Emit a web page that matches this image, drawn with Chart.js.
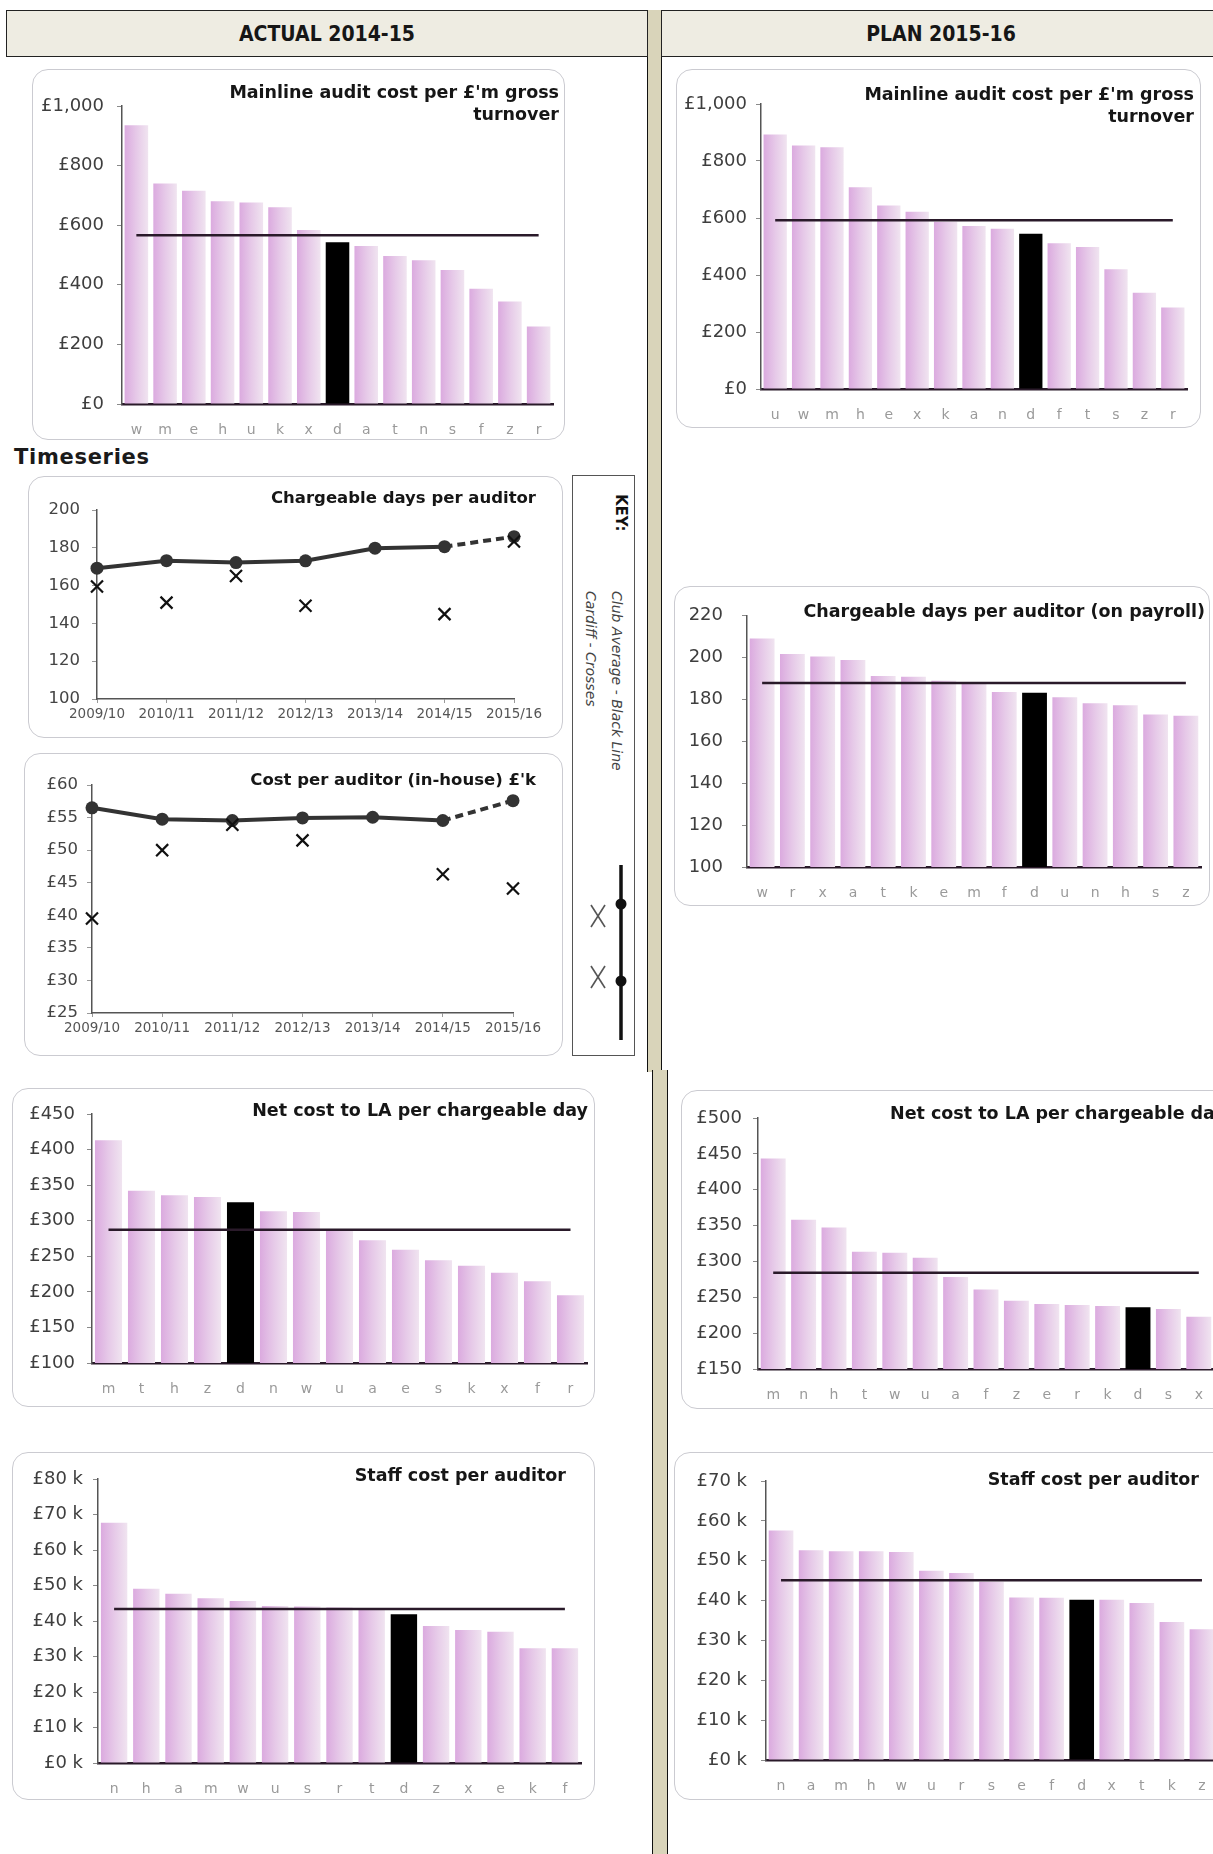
<!DOCTYPE html>
<html>
<head>
<meta charset="utf-8">
<title>Internal audit benchmarking</title>
<script src="https://cdn.jsdelivr.net/npm/chart.js@4.4.1/dist/chart.umd.min.js"></script>
<style>
  html, body { margin: 0; padding: 0; background: #fff; }
  body { width: 1213px; height: 1854px; position: relative; overflow: hidden;
         font-family: "DejaVu Sans", Verdana, sans-serif; }
  .abs { position: absolute; }
  .card { position: absolute; box-sizing: border-box; border: 1.5px solid #cbcbd1;
          border-radius: 16px; background: #fff; }
  .plot { position: absolute; }
  .plot canvas { display: block; }
  .ttl { position: absolute; font-weight: bold; color: #161616; white-space: nowrap; }
  .head { position: absolute; top: 10px; height: 47px; box-sizing: border-box;
          border: 1.5px solid #222; background: #eeece2; display: flex;
          align-items: center; justify-content: center;
          font-family: "Liberation Sans Narrow", "DejaVu Sans Condensed", sans-serif;
          font-size: 21px; font-weight: bold; letter-spacing: 0px; color: #161616; }
  .divider { position: absolute; box-sizing: border-box; background: #d9d4ba;
             border-left: 1.5px solid #111; border-right: 1.5px solid #111; }
</style>
</head>
<body>

<div class="divider" style="left:647px; top:10px; width:15px; height:1062px;"></div>
<div class="divider" style="left:652px; top:1070px; width:16px; height:790px;"></div>
<div class="head" style="left:6px; width:642px;">ACTUAL 2014-15</div>
<div class="head" style="left:661px; width:560px;">PLAN 2015-16</div>

<div class="abs" style="left:14px; top:445px; font-weight:bold; font-size:21px; letter-spacing:0.7px; color:#1a1a1a;">Timeseries</div>

<!-- key panel for the two time series -->
<div class="abs" style="left:572px; top:475px; width:63px; height:581px; box-sizing:border-box; border:1.5px solid #555; background:#fff;"></div>
<div class="abs" style="left:611px; top:494px; writing-mode:vertical-rl; font-weight:bold; font-size:15px; line-height:20px; color:#111;">KEY:</div>
<div class="abs" style="left:578px; top:591px; writing-mode:vertical-rl; font-style:italic; font-size:14px; line-height:26px; color:#444;">Club Average - Black Line<br>Cardiff - Crosses</div>
<svg class="abs" style="left:580px; top:860px;" width="55" height="190">
  <g stroke="#555" stroke-width="1.6" fill="none">
    <line x1="11" y1="45" x2="25" y2="67"/><line x1="25" y1="45" x2="11" y2="67"/>
    <line x1="11" y1="106" x2="25" y2="128"/><line x1="25" y1="106" x2="11" y2="128"/>
  </g>
  <line x1="41" y1="5" x2="41" y2="180" stroke="#111" stroke-width="3.5"/>
  <circle cx="41" cy="44" r="5.5" fill="#111"/>
  <circle cx="41" cy="121" r="5.5" fill="#111"/>
</svg>

<script>
// ---------- data ----------
const years = ['2009/10', '2010/11', '2011/12', '2012/13', '2013/14', '2014/15', '2015/16'];

// Mainline audit cost per £'m gross turnover
const mainlineActualCats = ['w','m','e','h','u','k','x','d','a','t','n','s','f','z','r'];
const mainlineActualVals = [935, 740, 716, 680, 676, 660, 584, 543, 530, 497, 482, 450, 387, 344, 260];
const mainlineActualAvg = 566;

const mainlinePlanCats = ['u','w','m','h','e','x','k','a','n','d','f','t','s','z','r'];
const mainlinePlanVals = [893, 854, 848, 708, 644, 622, 587, 572, 562, 545, 511, 498, 420, 338, 286];
const mainlinePlanAvg = 592;

// Chargeable days per auditor (time series)
const daysClub = [169.2, 173.2, 172.2, 173.1, 179.8, 180.6, 185.9];
const daysCardiff = [159.5, 151.0, 165.1, 149.3, null, 144.9, 183.3];

// Cost per auditor (in-house) £'k (time series)
const costClub = [56.5, 54.75, 54.55, 54.95, 55.05, 54.55, 57.6];
const costCardiff = [39.5, 50.0, 53.9, 51.5, null, 46.3, 44.1];

// Chargeable days per auditor (on payroll), plan
const daysPlanCats = ['w','r','x','a','t','k','e','m','f','d','u','n','h','s','z'];
const daysPlanVals = [209.2, 201.7, 200.5, 198.9, 191.3, 190.9, 189.0, 187.6, 183.6, 183.3, 181.1, 178.2, 177.3, 172.8, 172.3];
const daysPlanAvg = 187.9;

// Net cost to LA per chargeable day
const netActualCats = ['m','t','h','z','d','n','w','u','a','e','s','k','x','f','r'];
const netActualVals = [413, 342, 335.7, 333.4, 325.9, 313.2, 312.3, 285.5, 272.4, 259.3, 244.3, 236.8, 227, 214.8, 195.1];
const netActualAvg = 287.4;

const netPlanCats = ['m','n','h','t','w','u','a','f','z','e','r','k','d','s','x'];
const netPlanVals = [443.6, 358, 347.3, 313.5, 312, 305, 278.2, 260.9, 245.3, 240.7, 239.2, 237.8, 236, 233.6, 222.8];
const netPlanAvg = 284.3;

// Staff cost per auditor (£k)
const staffActualCats = ['n','h','a','m','w','u','s','r','t','d','z','x','e','k','f'];
const staffActualVals = [67.7, 49.1, 47.7, 46.4, 45.6, 44.2, 44.1, 43.8, 43.4, 41.9, 38.6, 37.5, 37.0, 32.3, 32.3];
const staffActualAvg = 43.4;

const staffPlanCats = ['n','a','m','h','w','u','r','s','e','f','d','x','t','k','z'];
const staffPlanVals = [57.6, 52.6, 52.4, 52.4, 52.2, 47.5, 46.9, 44.7, 40.8, 40.7, 40.2, 40.2, 39.4, 34.6, 32.8];
const staffPlanAvg = 45.1;

const ownAuthority = 'd';

// ---------- helpers ----------
Chart.defaults.font.family = '"DejaVu Sans", Verdana, sans-serif';
Chart.defaults.animation = false;

const fmtPounds = v => '£' + Number(v).toLocaleString('en-GB');
const fmtK = v => '£' + v + ' k';
const fmtPlain = v => String(v);

// lilac bars get a soft left-to-right shade; the highlighted authority stays black
const barShade = {
  id: 'barShade',
  beforeDatasetsDraw(chart) {
    const g = chart.ctx;
    chart.data.datasets.forEach((ds, i) => {
      const meta = chart.getDatasetMeta(i);
      if (meta.type !== 'bar') return;
      meta.data.forEach((el, j) => {
        if (chart.data.labels[j] === ownAuthority) return;
        const half = el.width / 2;
        const gr = g.createLinearGradient(el.x - half, 0, el.x + half, 0);
        gr.addColorStop(0, '#dbaadf');
        gr.addColorStop(0.5, '#e6c9e8');
        gr.addColorStop(1, '#f0e4f0');
        el.options = Object.assign({}, el.options, { backgroundColor: gr });
      });
    });
  }
};

function mount(card) {
  const box = document.createElement('div');
  box.className = 'card';
  Object.assign(box.style, { left: card[0] + 'px', top: card[1] + 'px', width: card[2] + 'px', height: card[3] + 'px' });
  document.body.appendChild(box);
  const wrap = document.createElement('div');
  wrap.className = 'plot';
  Object.assign(wrap.style, { left: card[0] + 'px', top: card[1] + 'px', width: card[2] + 'px', height: card[3] + 'px' });
  const cv = document.createElement('canvas');
  wrap.appendChild(cv);
  document.body.appendChild(wrap);
  return cv;
}

function addTitle(lines, x, yMid, size, anchor) {
  const d = document.createElement('div');
  d.className = 'ttl';
  const lh = size * 1.22;
  d.style.fontSize = size + 'px';
  d.style.lineHeight = lh + 'px';
  d.style.top = (yMid - lh / 2) + 'px';
  if (anchor === 'left') {
    d.style.left = x + 'px';
    d.style.textAlign = 'left';
  } else {
    d.style.left = (x - 700) + 'px';
    d.style.width = '700px';
    d.style.textAlign = 'right';
  }
  d.innerHTML = lines.join('<br>');
  document.body.appendChild(d);
}

function frame(card, plot, xH) {
  return {
    autoPadding: false,
    padding: {
      left: 0,
      top: plot.t - card[1],
      right: card[0] + card[2] - plot.r,
      bottom: card[1] + card[3] - plot.b - xH
    }
  };
}

function barChart(o) {
  const cv = mount(o.card);
  const xH = 32, tickLen = 5;
  new Chart(cv, {
    type: 'bar',
    data: {
      labels: o.cats,
      datasets: [
        { type: 'line', data: o.cats.map(() => o.avg), borderColor: '#2a1a2a', borderWidth: 2.5,
          pointRadius: 0, tension: 0, order: 0 },
        { type: 'bar', data: o.vals,
          backgroundColor: c => o.cats[c.dataIndex] === ownAuthority ? '#000000' : '#e4c6e7',
          barPercentage: 0.82, categoryPercentage: 1, order: 1 }
      ]
    },
    options: {
      responsive: true, maintainAspectRatio: false, animation: false,
      layout: frame(o.card, o.plot, xH),
      plugins: { legend: { display: false }, tooltip: { enabled: false }, title: { display: false } },
      scales: {
        x: {
          grid: { display: false },
          border: { display: true, color: '#2a1a2a', width: 2.5 },
          ticks: { color: '#9a9a9a', font: { size: 14 }, padding: 10, autoSkip: false, maxRotation: 0 },
          afterFit: s => { s.height = xH; }
        },
        y: {
          min: o.min, max: o.max,
          grid: { display: true, drawOnChartArea: false, drawTicks: true, tickLength: tickLen, color: '#8a8a8a' },
          border: { display: true, color: '#555', width: 1.5 },
          ticks: { stepSize: o.step, color: '#3e3e3e', font: { size: 18 }, padding: o.gap - tickLen, callback: o.fmt },
          afterFit: s => { s.width = o.plot.l - o.card[0]; }
        }
      }
    },
    plugins: [barShade]
  });
}

function tsChart(o) {
  const cv = mount(o.card);
  const xH = 28, tickLen = 5;
  new Chart(cv, {
    type: 'line',
    data: {
      labels: years,
      datasets: [
        { data: o.club, borderColor: '#333', backgroundColor: '#333', borderWidth: 4, tension: 0,
          pointRadius: 6.5, pointBackgroundColor: '#333', pointBorderWidth: 0, clip: false,
          segment: { borderDash: s => (s.p1DataIndex === years.length - 1 ? [8, 5] : undefined) },
          order: 1 },
        { data: o.cardiff, showLine: false, pointStyle: 'crossRot', pointRadius: 8.5,
          pointBorderColor: '#111', pointBackgroundColor: '#111', pointBorderWidth: 2.2, clip: false, order: 0 }
      ]
    },
    options: {
      responsive: true, maintainAspectRatio: false, animation: false,
      layout: frame(o.card, o.plot, xH),
      plugins: { legend: { display: false }, tooltip: { enabled: false }, title: { display: false } },
      scales: {
        x: {
          offset: false,
          grid: { display: true, drawOnChartArea: false, drawTicks: true, tickLength: 4, color: '#999' },
          border: { display: true, color: '#555', width: 1.5 },
          ticks: { color: '#555', font: { size: 13.5 }, padding: 3, autoSkip: false, maxRotation: 0 },
          afterFit: s => { s.height = xH; }
        },
        y: {
          min: o.min, max: o.max,
          grid: { display: true, drawOnChartArea: false, drawTicks: true, tickLength: tickLen, color: '#999' },
          border: { display: true, color: '#555', width: 1.5 },
          ticks: { stepSize: o.step, color: '#444', font: { size: 16.5 }, padding: o.gap - tickLen, callback: o.fmt },
          afterFit: s => { s.width = o.plot.l - o.card[0]; }
        }
      }
    }
  });
}

// ---------- left column: actual 2014-15 ----------
barChart({ card: [32, 69, 533, 371], plot: { l: 122, t: 106, r: 553, b: 404 }, gap: 18,
  cats: mainlineActualCats, vals: mainlineActualVals, avg: mainlineActualAvg,
  min: 0, max: 1000, step: 200, fmt: fmtPounds });
addTitle(["Mainline audit cost per £'m gross", 'turnover'], 559, 93, 17.5);

tsChart({ card: [28, 476, 535, 262], plot: { l: 97, t: 510, r: 514, b: 699 }, gap: 17,
  club: daysClub, cardiff: daysCardiff, min: 100, max: 200, step: 20, fmt: fmtPlain });
addTitle(['Chargeable days per auditor'], 536, 498, 16.5);

tsChart({ card: [24, 753, 539, 303], plot: { l: 92, t: 785, r: 513, b: 1013 }, gap: 14,
  club: costClub, cardiff: costCardiff, min: 25, max: 60, step: 5, fmt: fmtPounds });
addTitle(["Cost per auditor (in-house) £'k"], 536, 780, 16.5);

barChart({ card: [12, 1088, 583, 319], plot: { l: 92, t: 1114, r: 587, b: 1363 }, gap: 17,
  cats: netActualCats, vals: netActualVals, avg: netActualAvg,
  min: 100, max: 450, step: 50, fmt: fmtPounds });
addTitle(['Net cost to LA per chargeable day'], 588, 1111, 17.5);

barChart({ card: [12, 1452, 583, 348], plot: { l: 98, t: 1479, r: 581, b: 1763 }, gap: 15,
  cats: staffActualCats, vals: staffActualVals, avg: staffActualAvg,
  min: 0, max: 80, step: 10, fmt: fmtK });
addTitle(['Staff cost per auditor'], 566, 1476, 17.5);

// ---------- right column: plan 2015-16 ----------
barChart({ card: [676, 69, 525, 359], plot: { l: 761, t: 104, r: 1187, b: 389 }, gap: 14,
  cats: mainlinePlanCats, vals: mainlinePlanVals, avg: mainlinePlanAvg,
  min: 0, max: 1000, step: 200, fmt: fmtPounds });
addTitle(["Mainline audit cost per £'m gross", 'turnover'], 1194, 95, 17.5);

barChart({ card: [674, 586, 536, 320], plot: { l: 747, t: 615, r: 1201, b: 867 }, gap: 24,
  cats: daysPlanCats, vals: daysPlanVals, avg: daysPlanAvg,
  min: 100, max: 220, step: 20, fmt: fmtPlain });
addTitle(['Chargeable days per auditor (on payroll)'], 1205, 612, 17.5);

barChart({ card: [681, 1090, 560, 319], plot: { l: 758, t: 1118, r: 1214, b: 1369 }, gap: 16,
  cats: netPlanCats, vals: netPlanVals, avg: netPlanAvg,
  min: 150, max: 500, step: 50, fmt: fmtPounds });
addTitle(['Net cost to LA per chargeable day'], 890, 1114, 17.5, 'left');

barChart({ card: [674, 1452, 560, 348], plot: { l: 766, t: 1481, r: 1217, b: 1760 }, gap: 19,
  cats: staffPlanCats, vals: staffPlanVals, avg: staffPlanAvg,
  min: 0, max: 70, step: 10, fmt: fmtK });
addTitle(['Staff cost per auditor'], 1199, 1480, 17.5);
</script>
</body>
</html>
